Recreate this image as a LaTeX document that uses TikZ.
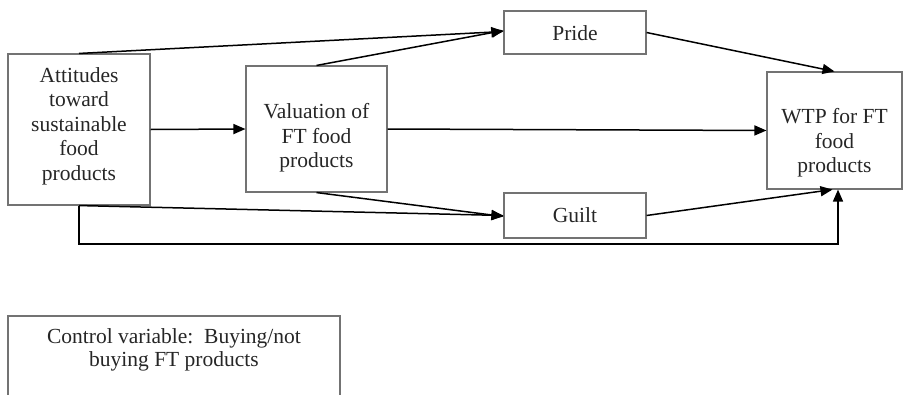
\documentclass[tikz,border=0pt]{standalone}
\usepackage{fontspec}
\setmainfont{Liberation Serif}
\usetikzlibrary{arrows.meta,calc}
\begin{document}
\begin{tikzpicture}[x=1pt,y=-1pt,
  box/.style={draw=black!55,line width=1.1pt,rectangle,inner sep=0pt},
  txt/.style={align=center,inner sep=0pt,font=\fontsize{21.5}{24.5}\selectfont,text=black!85},
  arr/.style={line width=1.5pt,-{Triangle[length=12pt,width=10pt]}},
  ln/.style={line width=1.5pt}]
\useasboundingbox (0,0) rectangle (903,394);
% boxes
\node[box,minimum width=142pt,minimum height=151pt] (att) at (79,129.5) {};
\node[box,minimum width=141pt,minimum height=126pt] (val) at (316.5,129) {};
\node[box,minimum width=142pt,minimum height=43pt] (pride) at (575,32.5) {};
\node[box,minimum width=142pt,minimum height=45pt] (guilt) at (575,215.5) {};
\node[box,minimum width=135pt,minimum height=117pt] (wtp) at (834.5,130.5) {};
% texts
\node[txt] (attT) at (79,126) {Attitudes\\toward\\sustainable\\food\\products};
\node[txt] (valT) at (316.5,138) {Valuation of\\FT food\\products};
\node[txt] (prideT) at (575,33) {Pride};
\node[txt] (guiltT) at (575,215) {Guilt};
\node[txt] (wtpT) at (834.5,143) {WTP for FT\\food\\products};
\node[txt,font=\fontsize{21.5}{23.5}\selectfont] (ctrl) at (174,350) {Control variable:\ \ Buying/not\\buying FT products};
% control box (bottom cut off)
\coordinate (c1) at (8,395);
\coordinate (c2) at (8,316);
\coordinate (c3) at (340,316);
\coordinate (c4) at (340,395);
\draw[draw=black!55,line width=1.1pt] (c1) -- (c2) -- (c3) -- (c4);
% connectors
\draw[arr] (att.north) -- ([yshift=1pt]pride.west);
\draw[arr] (val.north) -- ([yshift=2pt]pride.west);
\draw[arr] (pride.east) -- (wtp.north);
\draw[arr] (att.east) -- (val.west);
\draw[arr] (val.east) -- (wtp.west);
\draw[arr] (val.south) -- ([yshift=-1pt]guilt.west);
\draw[arr] (att.south) -- (guilt.west);
\draw[arr] (guilt.east) -- ([xshift=-2pt]wtp.south);
\coordinate (l1) at (79,244);
\coordinate (l2) at (838,244);
\draw[arr] (att.south) -- (l1) -- (l2) -- (l2 |- wtp.south);
\end{tikzpicture}
\end{document}
